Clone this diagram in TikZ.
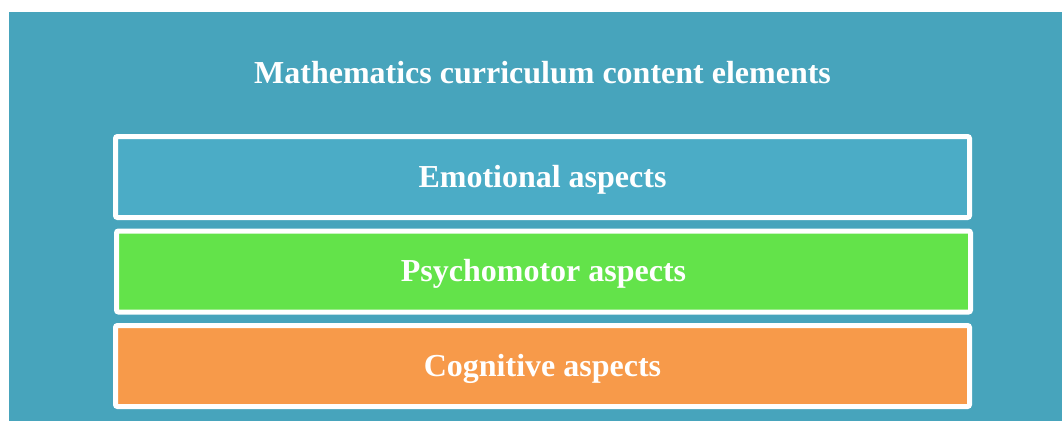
\documentclass[tikz,border=0pt]{standalone}
\usepackage{fontspec}
\setmainfont{Liberation Serif}
\definecolor{panelteal}{HTML}{47A4BC}
\definecolor{layerblue}{HTML}{4BACC6}
\definecolor{layergreen}{HTML}{63E34A}
\definecolor{layerorange}{HTML}{F79A4A}
\begin{document}
\begin{tikzpicture}[x=1pt,y=-1pt,
  layer/.style={draw=white, line width=5pt, rounded corners=2pt,
    minimum width=854pt, minimum height=81pt, inner sep=0pt,
    text height=20pt, text depth=0pt,
    text=white, font=\fontsize{32}{38}\selectfont\bfseries},
  heading/.style={text=white, inner sep=0pt, anchor=base,
    font=\fontsize{32}{38}\selectfont\bfseries}]
  \useasboundingbox (0,0) rectangle (1062,421);
  % panel behind the three layers
  \fill[panelteal] (9,12) rectangle (1062,421);
  \node[heading] (title) at (542.5,83) {Mathematics curriculum content elements};
  \node[layer, fill=layerblue] (emotional) at (542.5,177) {Emotional aspects};
  \node[layer, fill=layergreen] (psycho) at (543.5,271.5) {Psychomotor aspects};
  \node[layer, fill=layerorange] (cognitive) at (542.5,366) {Cognitive aspects};
\end{tikzpicture}
\end{document}
